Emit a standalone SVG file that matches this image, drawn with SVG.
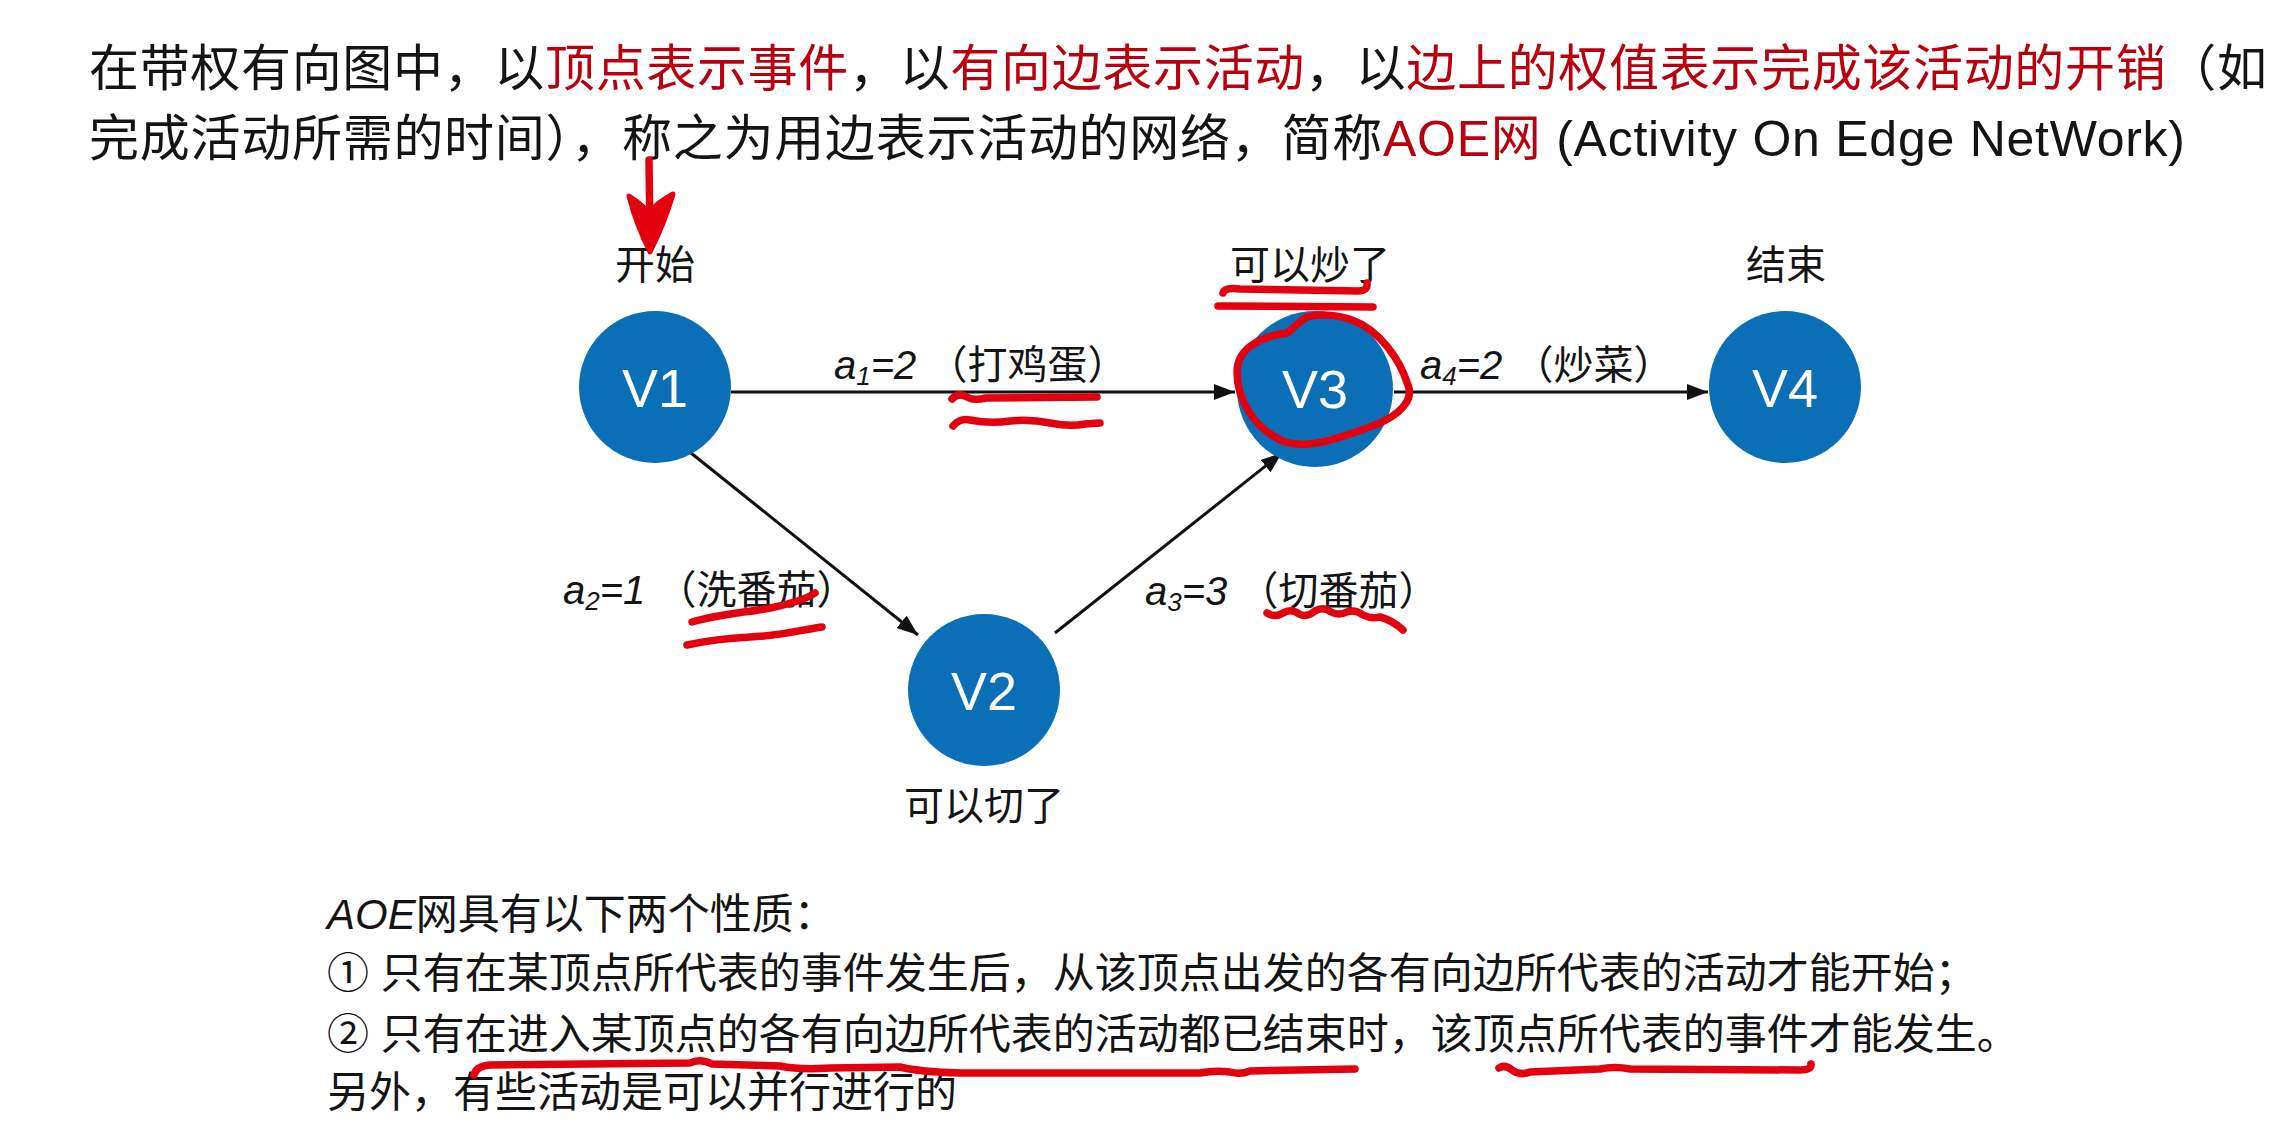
<svg xmlns="http://www.w3.org/2000/svg" width="2296" height="1122" viewBox="0 0 2296 1122">
<style>
.t{font-family:"Liberation Sans","Noto Sans CJK SC",sans-serif;fill:#141414;}
.h{font-size:50px;}
.red{fill:#b8000e;}
.lbl{font-size:40px;}
.it{font-style:italic;}
.body{font-size:42px;}
.vt{font-family:"Liberation Sans",sans-serif;font-size:54px;fill:#ffffff;text-anchor:middle;}
.node circle{fill:#0b6fb7;}
.cap{text-anchor:middle;}
.edge{stroke:#111;stroke-width:3;fill:none;marker-end:url(#arr);}
.pen{stroke:#e3000f;stroke-width:7.5;fill:none;stroke-linecap:round;stroke-linejoin:round;}
</style>
<defs>
<marker id="arr" markerUnits="userSpaceOnUse" markerWidth="22" markerHeight="16" refX="21" refY="8" orient="auto">
<path d="M0,0 L21,8 L0,16 z" fill="#111"/>
</marker>
</defs>
<rect width="2296" height="1122" fill="#ffffff"/>

<g id="header">
<text class="t h" x="89" y="86" textLength="2178" lengthAdjust="spacing">在带权有向图中，以<tspan class="red">顶点表示事件</tspan>，以<tspan class="red">有向边表示活动</tspan>，以<tspan class="red">边上的权值表示完成该活动的开销</tspan>（如</text>
<text class="t h" x="89" y="156" textLength="2096" lengthAdjust="spacing">完成活动所需的时间），称之为用边表示活动的网络，简称<tspan class="red">AOE网</tspan> (Activity On Edge NetWork)</text>
</g>

<g id="connectors">
<line id="e13" class="edge" x1="731" y1="392" x2="1235" y2="392"/>
<line id="e34" class="edge" x1="1394" y1="392" x2="1708" y2="392"/>
<line id="e12" class="edge" x1="691" y1="453" x2="918" y2="635"/>
<line id="e23" class="edge" x1="1055" y1="633" x2="1282" y2="453"/>
</g>

<g id="edge-labels">
<text class="t lbl" x="834" y="379"><tspan class="it">a</tspan><tspan class="it" font-size="26" dy="6">1</tspan><tspan class="it" dy="-6">=2</tspan> （打鸡蛋）</text>
<text class="t lbl" x="1420" y="379"><tspan class="it">a</tspan><tspan class="it" font-size="26" dy="6">4</tspan><tspan class="it" dy="-6">=2</tspan> （炒菜）</text>
<text class="t lbl" x="563" y="604"><tspan class="it">a</tspan><tspan class="it" font-size="26" dy="6">2</tspan><tspan class="it" dy="-6">=1</tspan> （洗番茄）</text>
<text class="t lbl" x="1145" y="605"><tspan class="it">a</tspan><tspan class="it" font-size="26" dy="6">3</tspan><tspan class="it" dy="-6">=3</tspan> （切番茄）</text>
</g>

<g id="V1" class="node">
<circle cx="655" cy="387" r="76"/>
<text class="vt" x="655" y="407">V1</text>
<text class="t lbl cap" x="655" y="279">开始</text>
</g>
<g id="V2" class="node">
<circle cx="984" cy="690" r="76"/>
<text class="vt" x="984" y="710">V2</text>
<text class="t lbl cap" x="984" y="820">可以切了</text>
</g>
<g id="V3" class="node">
<circle cx="1315" cy="389" r="78"/>
<text class="vt" x="1315" y="408">V3</text>
<text class="t lbl cap" x="1310" y="279">可以炒了</text>
</g>
<g id="V4" class="node">
<circle cx="1785" cy="387" r="76"/>
<text class="vt" x="1785" y="407">V4</text>
<text class="t lbl cap" x="1786" y="279">结束</text>
</g>

<g id="properties">
<text class="t body" x="327" y="929"><tspan class="it">AOE</tspan>网具有以下两个性质：</text>
<text class="t body" x="327" y="988">① 只有在某顶点所代表的事件发生后，从该顶点出发的各有向边所代表的活动才能开始；</text>
<text class="t body" x="327" y="1049">② 只有在进入某顶点的各有向边所代表的活动都已结束时，该顶点所代表的事件才能发生。</text>
<text class="t body" x="327" y="1107">另外，有些活动是可以并行进行的</text>
</g>

<g id="annotations">
<path class="pen" d="M649,160 L650,238" stroke-width="9"/>
<path d="M629,196 Q643,205 649,213 Q656,203 673,194 Q665,222 650,252 Q636,224 629,196 Z" fill="#e3000f" stroke="#e3000f" stroke-width="5" stroke-linejoin="round"/>
<path class="pen" d="M1223,293 Q1224,287 1240,289 L1358,291 Q1368,291 1367,283"/>
<path class="pen" d="M1218,306 L1373,307"/>
<path class="pen" d="M1307,317 C1298,322 1292,330 1287,333 C1262,336 1237,348 1237,372 C1237,400 1255,430 1285,442 C1310,450 1345,436 1375,425 C1400,415 1414,400 1408,385 C1400,360 1380,330 1352,320 C1335,314 1318,314 1307,317"/>
<path class="pen" d="M952,399 Q958,392 967,397 Q973,401 986,398 L1097,397"/>
<path class="pen" d="M953,426 Q960,418 970,420 Q990,424 1010,421 Q1030,419 1050,423 Q1070,427 1085,424 L1100,423"/>
<path class="pen" d="M692,622 C720,614 750,612 770,608 C790,604 805,600 815,593"/>
<path class="pen" d="M687,645 C710,640 730,638 750,637 C780,636 800,630 822,627"/>
<path class="pen" d="M1267,613 Q1275,618 1283,613 Q1291,608 1299,614 Q1307,618 1315,611 Q1323,606 1331,612 Q1339,616 1347,612 Q1355,609 1363,615 Q1371,619 1380,617 Q1392,620 1403,630"/>
<path class="pen" d="M474,1075 Q476,1066 490,1065 L690,1063 Q700,1058 712,1064 L780,1066 Q800,1070 830,1068 L900,1067 Q920,1072 960,1073 L1200,1073 Q1215,1070 1230,1072 Q1240,1075 1250,1071 L1355,1069"/>
<path class="pen" d="M1499,1068 Q1505,1064 1512,1070 Q1520,1076 1530,1072 L1600,1069 Q1615,1066 1630,1069 L1800,1070 Q1812,1070 1811,1064"/>
</g>
</svg>
